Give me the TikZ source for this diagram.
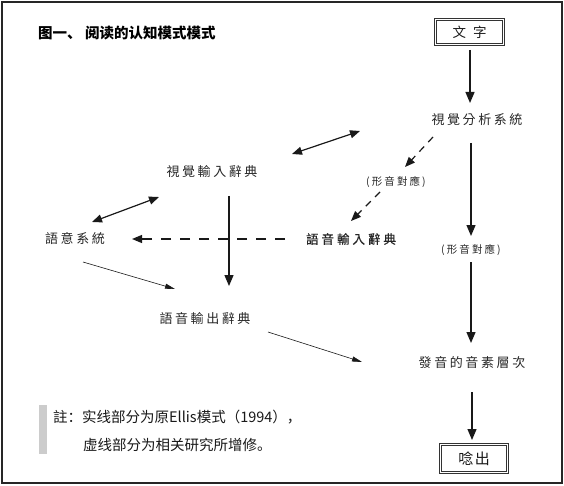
\documentclass[tikz,border=0pt]{standalone}
\usepackage{fontspec}
\usetikzlibrary{arrows.meta}
\newfontfamily\tcfont[LetterSpace=20]{Noto Sans CJK TC}
\newfontfamily\tcheavy[LetterSpace=24, FakeBold=0.6]{Noto Sans CJK TC}
\newfontfamily\tcplain{Noto Sans CJK TC}
\newfontfamily\scfont{Noto Sans CJK SC}

\begin{document}
\begin{tikzpicture}[x=1pt, y=-1pt,
    lbl/.style={inner sep=0pt, text=black!85, font=\tcfont\fontsize{13}{13}\selectfont},
    smalllbl/.style={inner sep=0pt, text=black!85, font=\tcfont\fontsize{10.5}{10.5}\selectfont},
    framebox/.style={draw=black!80, double, line width=0.6pt, double distance=1.6pt, inner sep=0pt, text=black!90},
    solidarr/.style={draw=black!90, line width=1.3pt, -{Triangle[length=11pt, width=9pt]}},
    bothway/.style={draw=black!90, line width=1.2pt, {Triangle[length=10pt, width=8pt]}-{Triangle[length=10pt, width=8pt]}},
    dasharr/.style={draw=black!90, line width=1.2pt, dash pattern=on 7pt off 6pt, -{Triangle[length=10pt, width=8pt]}},
    thinarr/.style={draw=black!90, line width=0.6pt, -{Triangle[length=10pt, width=5pt]}}]

    \useasboundingbox (0,0) rectangle (564,486);
    \draw[black!85, line width=1.1pt] (2,2) rectangle (562,483);

    % title
    \node[anchor=west, inner sep=0pt, font=\scfont\bfseries\fontsize{14.5}{14.5}\selectfont] (title) at (38,33) {图一、 阅读的认知模式模式};

    % boxes
    \node[framebox, minimum width=68pt, minimum height=25pt, font=\tcplain\fontsize{13.5}{13.5}\selectfont] (wenzi) at (469.5,32) {文\hspace{7pt}字};
    \node[framebox, minimum width=67pt, minimum height=28pt, font=\tcplain\fontsize{15}{15}\selectfont] (nianchu) at (474,458.5) {唸\hspace{1.5pt}出};

    % labels
    \node[lbl] (fenxi) at (477,120) {視覺分析系統};
    \node[lbl] (shuru) at (212,172) {視覺輸入辭典};
    \node[lbl] (yuyi) at (75,239) {語意系統};
    \node[lbl, font=\tcheavy\fontsize{12.5}{12.5}\selectfont] (yinshuru) at (351,239) {語音輸入辭典};
    \node[lbl] (shuchu) at (205,319) {語音輸出辭典};
    \node[lbl] (fayin) at (472,363) {發音的音素層次};
    \node[smalllbl] (xy1) at (396,182) {(形音對應)};
    \node[smalllbl] (xy2) at (471,250) {(形音對應)};

    % solid path
    \draw[solidarr] ([shift={(0.5,18)}]wenzi.center) -- ([shift={(-7,-17)}]fenxi.center);
    \draw[solidarr] ([shift={(-6,23)}]fenxi.center) -- ([shift={(0,-14)}]xy2.center);
    \draw[solidarr] ([shift={(0,12)}]xy2.center) -- ([shift={(-1,-20)}]fayin.center);
    \draw[solidarr] ([shift={(0,29)}]fayin.center) -- ([shift={(-2,-18.5)}]nianchu.center);
    \draw[solidarr] ([shift={(17,24)}]shuru.center) -- ([shift={(24,-33)}]shuchu.center);
    \draw[bothway] ([shift={(80,-18)}]shuru.center) -- ([shift={(-117,11)}]fenxi.center);
    \draw[bothway] ([shift={(17,-17)}]yuyi.center) -- ([shift={(-53,25)}]shuru.center);
    \draw[thinarr] ([shift={(8,23)}]yuyi.center) -- ([shift={(-30,-30)}]shuchu.center);
    \draw[thinarr] ([shift={(63,13)}]shuchu.center) -- ([shift={(-110,-1)}]fayin.center);

    % dashed path
    \draw[dasharr] ([shift={(-44,17)}]fenxi.center) -- ([shift={(9,-15)}]xy1.center);
    \draw[dasharr] ([shift={(-16,10)}]xy1.center) -- ([shift={(0,-18)}]yinshuru.center);
    \draw[dasharr, dash pattern=on 10pt off 9pt] ([shift={(-66,0)}]yinshuru.center) -- ([shift={(57,0)}]yuyi.center);

    % note
    \fill[black!20] (39,405) rectangle (47,454);
    \node[anchor=west, inner sep=0pt, text=black!90, font=\scfont\fontsize{14.5}{14.5}\selectfont] (note1) at (53,417) {註：实线部分为原Ellis模式（1994），};
    \node[anchor=west, inner sep=0pt, text=black!90, font=\scfont\fontsize{14.5}{14.5}\selectfont] (note2) at (83,445) {虚线部分为相关研究所增修。};
\end{tikzpicture}
\end{document}
